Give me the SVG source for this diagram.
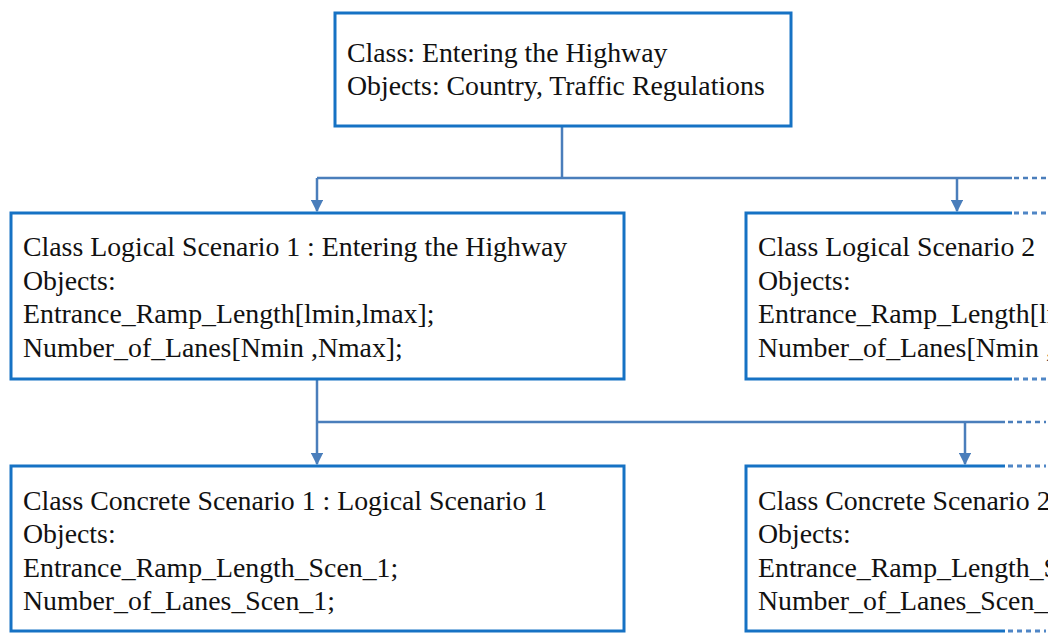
<svg xmlns="http://www.w3.org/2000/svg" width="1048" height="633" viewBox="0 0 1048 633">
<defs>
<style>
.box{fill:#fff;stroke:#1672c4;stroke-width:3}
.edge{fill:none;stroke:#1672c4;stroke-width:3}
.dot{fill:none;stroke:#4f86c6;stroke-width:3;stroke-dasharray:5 4}
.con{fill:none;stroke:#4a7ebb;stroke-width:2.5}
.cdot{fill:none;stroke:#4a7ebb;stroke-width:2.5;stroke-dasharray:5 4}
.t{font-family:'Liberation Serif','Times New Roman',Times,serif;font-size:27.8px;fill:#111}
</style>
<marker id="arr" viewBox="0 0 10 10" refX="9" refY="5" markerWidth="5" markerHeight="5" orient="auto">
<path d="M0,0 L10,5 L0,10 z" fill="#4a7ebb"/>
</marker>
</defs>
<rect width="1048" height="633" fill="#fff"/>
<g id="connectors">
<path class="con" d="M562,126 V178"/>
<path class="con" d="M317,178 H1012"/>
<path class="cdot" d="M1014,178 H1046"/>
<path class="con" d="M317,178 V211" marker-end="url(#arr)"/>
<path class="con" d="M957,178 V211" marker-end="url(#arr)"/>
<path class="con" d="M317,379 V464" marker-end="url(#arr)"/>
<path class="con" d="M317,422 H1005"/>
<path class="cdot" d="M1008,422 H1046"/>
<path class="con" d="M965,422 V464" marker-end="url(#arr)"/>
</g>
<g id="root" class="t">
<rect class="box" x="335" y="13" width="456" height="113"/>
<text x="347" y="62">Class: Entering the Highway</text>
<text x="347" y="95">Objects: Country, Traffic Regulations</text>
</g>
<g id="logical1" class="t">
<rect class="box" x="11" y="213" width="613" height="166"/>
<text x="23" y="256">Class Logical Scenario 1 : Entering the Highway</text>
<text x="23" y="290">Objects:</text>
<text x="23" y="323">Entrance_Ramp_Length[lmin,lmax];</text>
<text x="23" y="357">Number_of_Lanes[Nmin ,Nmax];</text>
</g>
<g id="logical2" class="t">
<path class="edge" d="M1012,213 H746 V379 H1012"/>
<path class="dot" d="M1014,213 H1046 M1014,379 H1046"/>
<text x="758" y="256">Class Logical Scenario 2</text>
<text x="758" y="290">Objects:</text>
<text x="758" y="323">Entrance_Ramp_Length[lmin,lmax];</text>
<text x="758" y="357">Number_of_Lanes[Nmin ,Nmax];</text>
</g>
<g id="concrete1" class="t">
<rect class="box" x="11" y="466" width="613" height="165"/>
<text x="23" y="510">Class Concrete Scenario 1 : Logical Scenario 1</text>
<text x="23" y="543">Objects:</text>
<text x="23" y="577">Entrance_Ramp_Length_Scen_1;</text>
<text x="23" y="610">Number_of_Lanes_Scen_1;</text>
</g>
<g id="concrete2" class="t">
<path class="edge" d="M1005,466 H746 V631 H1005"/>
<path class="dot" d="M1008,466 H1046 M1008,631 H1046"/>
<text x="758" y="510">Class Concrete Scenario 2 : Logical Scenario 2</text>
<text x="758" y="543">Objects:</text>
<text x="758" y="577">Entrance_Ramp_Length_Scen_2;</text>
<text x="758" y="610">Number_of_Lanes_Scen_2;</text>
</g>
</svg>
